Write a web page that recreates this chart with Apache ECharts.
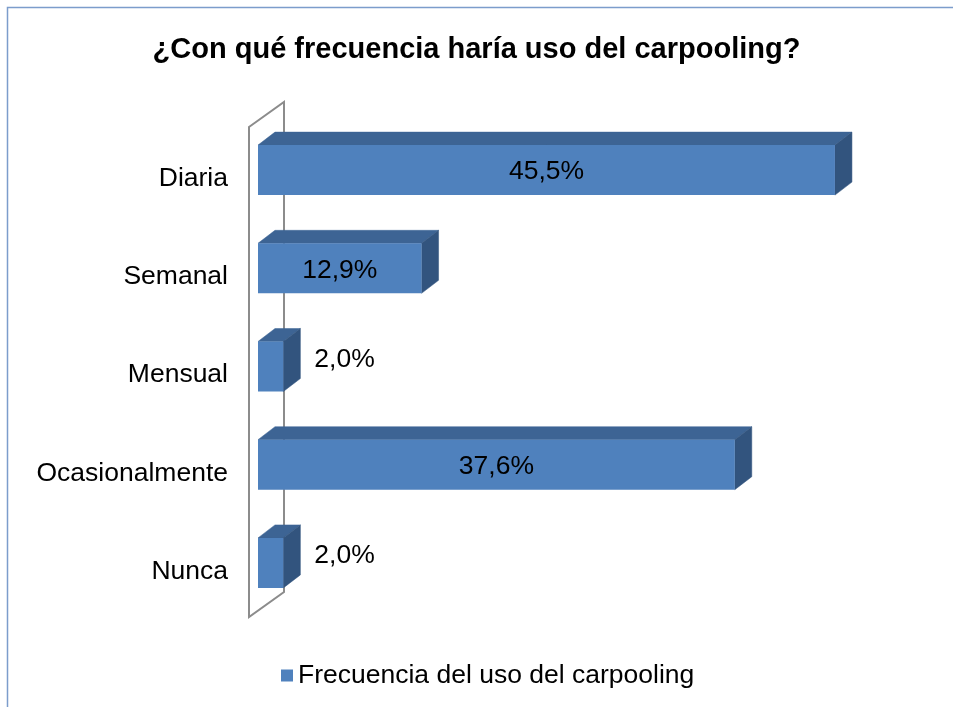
<!DOCTYPE html>
<html lang="es">
<head>
    <meta charset="utf-8">
    <script src="https://cdn.jsdelivr.net/npm/echarts@6/dist/echarts.min.js"></script>
    <style>
        html, body { margin: 0; padding: 0; background: #fff; }
        #chart { width: 953px; height: 707px; }
    </style>
</head>
<body>
<div id="chart"></div>
<script type="text/javascript">
    var categories = ['Diaria', 'Semanal', 'Mensual', 'Ocasionalmente', 'Nunca'];
    var values = [45.5, 12.9, 2.0, 37.6, 2.0];
    var seriesName = 'Frecuencia del uso del carpooling';

    var FONT = '"Liberation Sans", Arial, sans-serif';
    var DX = 17, DY = 13, BAR_H = 50;

    function fmt(v) {
        return v.toFixed(1).replace('.', ',') + '%';
    }

    var chart = echarts.init(document.getElementById('chart'));

    var option = {
        animation: false,
        title: {
            text: '¿Con qué frecuencia haría uso del carpooling?',
            left: 'center',
            top: 30,
            textStyle: { fontFamily: FONT, fontSize: 29, fontWeight: 'bold', color: '#000' }
        },
        legend: {
            data: [seriesName],
            left: 276,
            top: 657,
            icon: 'rect',
            itemWidth: 12,
            itemHeight: 12,
            itemGap: 6,
            textStyle: { fontFamily: FONT, fontSize: 26.5, color: '#000' }
        },
        grid: { left: 258, right: 61, top: 121, bottom: 95 },
        xAxis: {
            type: 'value', min: 0, max: 50, show: false
        },
        yAxis: {
            type: 'category',
            data: categories,
            inverse: true,
            axisLine: { show: false },
            axisTick: { show: false },
            axisLabel: {
                margin: 30,
                formatter: function (v) { return '{c|' + v + '}'; },
                rich: {
                    c: {
                        fontFamily: FONT, fontSize: 26.5, color: '#000',
                        padding: [17, 0, 0, 0]
                    }
                }
            }
        },
        graphic: [
            {
                type: 'rect', silent: true,
                shape: { x: 7.5, y: 7.5, width: 960, height: 720 },
                style: { fill: 'none', stroke: '#7c9dcc', lineWidth: 1.5 }
            },
            {
                type: 'polygon', silent: true, z: 0,
                shape: { points: [[249, 127], [284, 102], [284, 592], [249, 617]] },
                style: { fill: 'none', stroke: '#8c8c8c', lineWidth: 2 }
            }
        ],
        series: [{
            name: seriesName,
            type: 'custom',
            itemStyle: { color: '#4f81bd' },
            data: values.map(function (v, i) { return [v, i]; }),
            renderItem: function (params, api) {
                var v = api.value(0);
                var p0 = api.coord([0, api.value(1)]);
                var p1 = api.coord([v, api.value(1)]);
                var x0 = p0[0], x1 = p1[0];
                var yTop = p0[1] - BAR_H / 2, yBot = p0[1] + BAR_H / 2;
                var inside = (x1 - x0) > 100;
                return {
                    type: 'group',
                    children: [
                        {
                            type: 'polygon',
                            shape: { points: [[x0, yTop], [x0 + DX, yTop - DY], [x1 + DX, yTop - DY], [x1, yTop]] },
                            style: { fill: '#3d6494', stroke: '#3d6494', lineWidth: 0.5 }
                        },
                        {
                            type: 'polygon',
                            shape: { points: [[x1, yTop], [x1 + DX, yTop - DY], [x1 + DX, yBot - DY], [x1, yBot]] },
                            style: { fill: '#32547e', stroke: '#32547e', lineWidth: 0.5 }
                        },
                        {
                            type: 'rect',
                            shape: { x: x0, y: yTop, width: x1 - x0, height: BAR_H },
                            style: { fill: '#4f81bd' }
                        },
                        {
                            type: 'text',
                            style: {
                                text: fmt(v),
                                x: inside ? (x0 + x1) / 2 : x1 + DX + 14,
                                y: inside ? p0[1] + 2 : p0[1] - 7,
                                align: inside ? 'center' : 'left',
                                verticalAlign: 'middle',
                                font: '26.5px ' + FONT,
                                fill: '#000'
                            }
                        }
                    ]
                };
            }
        }]
    };

    chart.setOption(option);
</script>
</body>
</html>
